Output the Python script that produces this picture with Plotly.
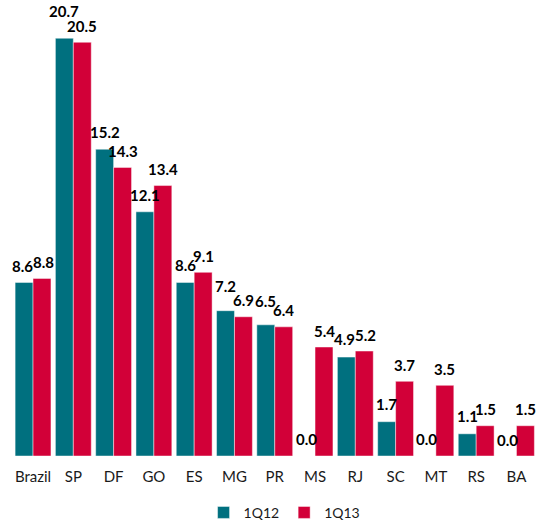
import plotly.graph_objects as go

categories = ["Brazil", "SP", "DF", "GO", "ES", "MG", "PR", "MS", "RJ", "SC", "MT", "RS", "BA"]
q12 = [8.6, 20.7, 15.2, 12.1, 8.6, 7.2, 6.5, 0.0, 4.9, 1.7, 0.0, 1.1, 0.0]
q13 = [8.8, 20.5, 14.3, 13.4, 9.1, 6.9, 6.4, 5.4, 5.2, 3.7, 3.5, 1.5, 1.5]

# extra upward nudge (px) of individual data labels, to avoid overlaps as in the original
lift_q12 = [0, 11, 1, 0, 1, 8, 7, 1, 2, 1, 1, 1, 0]
lift_q13 = [0, 0, 0, 0, 0, 0, 0, 0, 0, 0, 0, 0, 0]
# extra sideways spread (px) of the two labels of a group
spread = [1.5, 0, 0, 0, 0, 0, 0, 0, 1.5, 0, 0, 0, 0]

teal = "#00707F"
red = "#D20038"
font = "Lato"

W, H = 542, 525
ML, MR, MT, MB = 10, 4, 12, 69
BARGAP = 0.11
slot = (W - ML - MR) / len(categories)
half = slot * (1 - BARGAP) / 4

fig = go.Figure()
for name, vals, col in [("1Q12", q12, teal), ("1Q13", q13, red)]:
    fig.add_trace(go.Bar(
        x=categories, y=vals, name=name,
        marker=dict(color=col, line=dict(color="rgba(255,255,255,0.45)", width=1)),
        cliponaxis=False,
    ))

for vals, lifts, sign in [(q12, lift_q12, -1), (q13, lift_q13, 1)]:
    for c, v, lf, sp in zip(categories, vals, lifts, spread):
        fig.add_annotation(
            x=c, y=v, xref="x", yref="y", text=f"{v:.1f}", showarrow=False,
            xshift=sign * (half + sp), yshift=16.5 + lf, yanchor="middle", xanchor="center",
            font=dict(family=font, size=15, color="black", weight="bold"),
        )

fig.update_layout(
    width=W, height=H,
    margin=dict(l=ML, r=MR, t=MT, b=MB, autoexpand=False),
    barmode="group", bargap=BARGAP, bargroupgap=0,
    plot_bgcolor="white", paper_bgcolor="white",
    font=dict(family=font, size=15, color="#1a1a1a"),
    showlegend=True,
    legend=dict(orientation="h", x=0.52, xanchor="center", y=-0.128, yanchor="middle",
                font=dict(family=font, size=14), traceorder="normal", itemwidth=30),
    xaxis=dict(showline=False, ticks="", tickfont=dict(size=15), ticklabelstandoff=10,
               showgrid=False, automargin=False),
    yaxis=dict(range=[0, 22], visible=False, showgrid=False, automargin=False),
)
fig.write_html("out.html", config={"displayModeBar": False},
               post_script="document.body.style.margin='0';")
